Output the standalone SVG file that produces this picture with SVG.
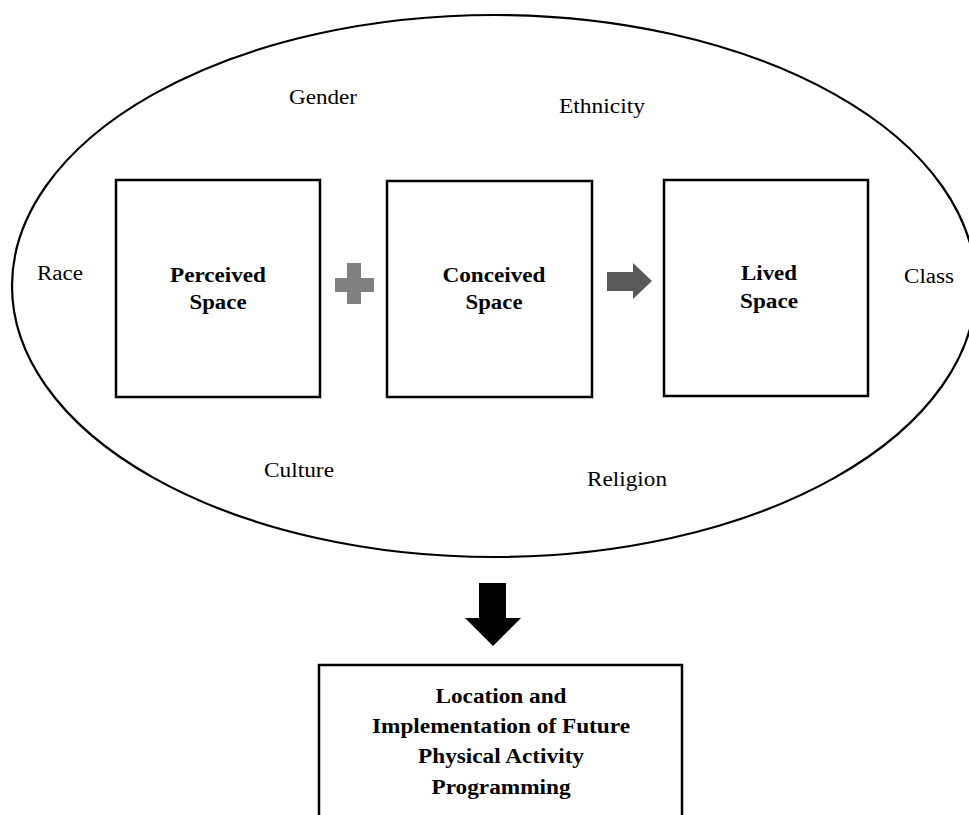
<svg xmlns="http://www.w3.org/2000/svg" width="969" height="815" viewBox="0 0 969 815">
<style>
.lbl{font-family:"Liberation Serif","Times New Roman",serif;font-size:20px;fill:#000}
.b{font-weight:bold;text-anchor:middle}
.box{fill:#fff;stroke:#000;stroke-width:2.5}
</style>
<rect width="969" height="815" fill="#fff"/>
<g id="context">
<ellipse cx="494" cy="286" rx="482" ry="271" fill="#fff" stroke="#000" stroke-width="2.2"/>
<text class="lbl" x="37" y="280" textLength="46" lengthAdjust="spacingAndGlyphs">Race</text>
<text class="lbl" x="289" y="104" textLength="68" lengthAdjust="spacingAndGlyphs">Gender</text>
<text class="lbl" x="559" y="113" textLength="86" lengthAdjust="spacingAndGlyphs">Ethnicity</text>
<text class="lbl" x="904" y="283" textLength="50" lengthAdjust="spacingAndGlyphs">Class</text>
<text class="lbl" x="264" y="477" textLength="70" lengthAdjust="spacingAndGlyphs">Culture</text>
<text class="lbl" x="587" y="486" textLength="80" lengthAdjust="spacingAndGlyphs">Religion</text>
</g>
<g id="perceived">
<rect class="box" x="116" y="180" width="204" height="217"/>
<text class="lbl b" x="218" y="282" textLength="96" lengthAdjust="spacingAndGlyphs">Perceived</text>
<text class="lbl b" x="218" y="309" textLength="57" lengthAdjust="spacingAndGlyphs">Space</text>
</g>
<g id="conceived">
<rect class="box" x="387" y="181" width="205" height="216"/>
<text class="lbl b" x="494" y="282" textLength="103" lengthAdjust="spacingAndGlyphs">Conceived</text>
<text class="lbl b" x="494" y="309" textLength="57" lengthAdjust="spacingAndGlyphs">Space</text>
</g>
<g id="lived">
<rect class="box" x="664" y="180" width="204" height="216"/>
<text class="lbl b" x="769" y="280" textLength="56" lengthAdjust="spacingAndGlyphs">Lived</text>
<text class="lbl b" x="769" y="308" textLength="58" lengthAdjust="spacingAndGlyphs">Space</text>
</g>
<g id="outcome">
<rect class="box" x="319" y="665" width="363" height="160"/>
<text class="lbl b" x="501" y="703" textLength="131" lengthAdjust="spacingAndGlyphs">Location and</text>
<text class="lbl b" x="501" y="733" textLength="258" lengthAdjust="spacingAndGlyphs">Implementation of Future</text>
<text class="lbl b" x="501" y="763" textLength="166" lengthAdjust="spacingAndGlyphs">Physical Activity</text>
<text class="lbl b" x="501" y="794" textLength="139" lengthAdjust="spacingAndGlyphs">Programming</text>
</g>
<g id="connectors">
<path d="M347 263H361V278H374V292H361V304H347V292H335V278H347Z" fill="#808080"/>
<path d="M607 272H633V263L652 281L633 299V291H607Z" fill="#595959"/>
<path d="M479 583H506V618H521L493 646L465 618H479Z" fill="#000"/>
</g>
</svg>
